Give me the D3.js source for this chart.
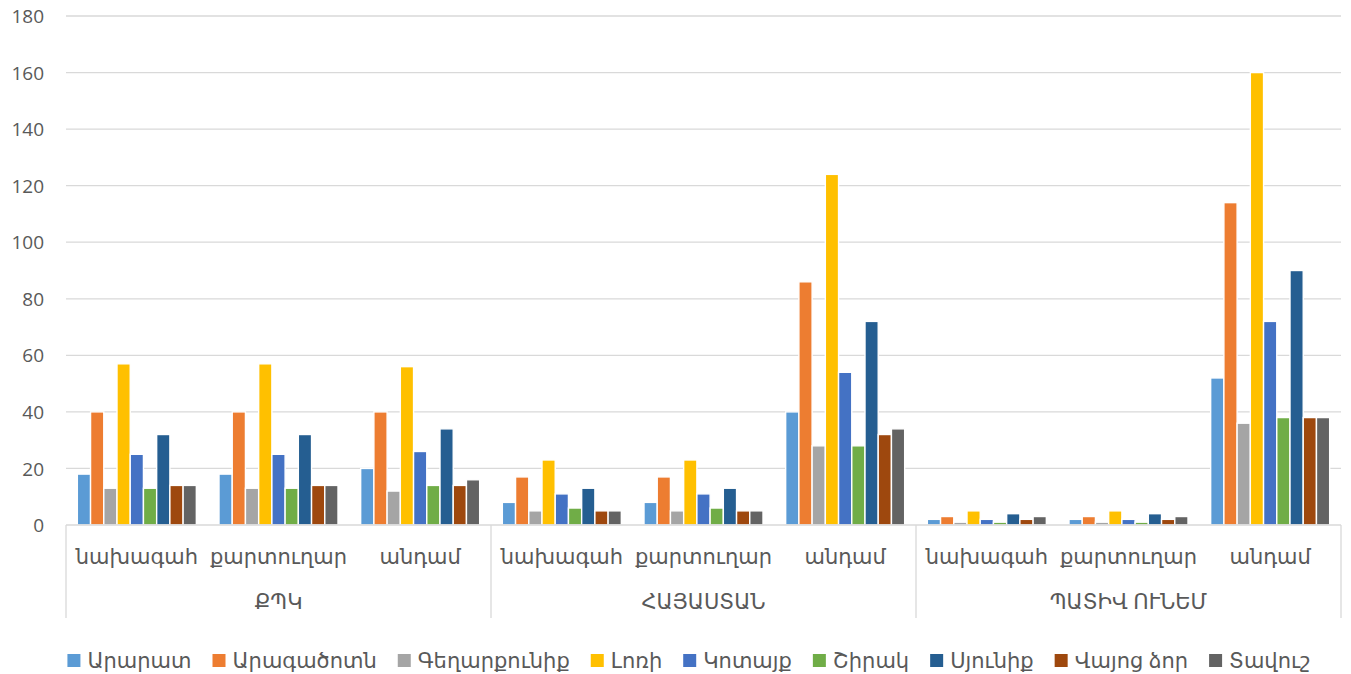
<!DOCTYPE html>
<html><head><meta charset="utf-8">
<script src="https://cdn.jsdelivr.net/npm/d3@7"></script>
<style>
html,body{margin:0;padding:0;background:#fff;}
svg text{font-family:"Noto Sans","DejaVu Sans",sans-serif;fill:#595959;}
</style></head>
<body><svg id="c" width="1351" height="674"></svg>
<script>
const groups = ["ՔՊԿ","ՀԱՅԱՍՏԱՆ","ՊԱՏԻՎ ՈՒՆԵՄ"];
const subcats = ["նախագահ","քարտուղար","անդամ"];
const series = ["Արարատ","Արագածոտն","Գեղարքունիք","Լոռի","Կոտայք","Շիրակ","Սյունիք","Վայոց ձոր","Տավուշ"];
const colors = ["#5B9BD5","#ED7D31","#A5A5A5","#FFC000","#4472C4","#70AD47","#255E91","#9E480E","#636363"];
const yTicks = [0,20,40,60,80,100,120,140,160,180];
// values per category (group × subcat), in series order
const qpkNakh   = [18,40,13,57,25,13,32,14,14];
const qpkQart   = [18,40,13,57,25,13,32,14,14];
const qpkAnd    = [20,40,12,56,26,14,34,14,16];
const hayNakh   = [8,17,5,23,11,6,13,5,5];
const hayQart   = [8,17,5,23,11,6,13,5,5];
const hayAnd    = [40,86,28,124,54,28,72,32,34];
const patNakh   = [2,3,1,5,2,1,4,2,3];
const patQart   = [2,3,1,5,2,1,4,2,3];
const patAnd    = [52,114,36,160,72,38,90,38,38];
const values = [qpkNakh,qpkQart,qpkAnd,hayNakh,hayQart,hayAnd,patNakh,patQart,patAnd];

const svg = d3.select("#c");
const L = 66, R = 1341, T = 16, B = 525;
const cats = [];
groups.forEach(g => subcats.forEach(s => cats.push(g + "|" + s)));

const x0 = d3.scaleBand().domain(cats).range([L, R]).paddingInner(0.16).paddingOuter(0.08);
const xOuter = d3.scaleBand().domain(cats).range([L, R]).padding(0);
const x1 = d3.scaleBand().domain(series).range([0, x0.bandwidth()]).padding(0);
const y = d3.scaleLinear().domain([0, 180]).range([B, T]);

// gridlines
svg.append("g").selectAll("line").data(yTicks.slice(1)).join("line")
  .attr("x1", L).attr("x2", R).attr("y1", d => y(d)).attr("y2", d => y(d))
  .attr("stroke", "#d9d9d9").attr("stroke-width", 1.3);

// y axis labels
const yAxis = d3.axisLeft(y).tickValues(yTicks).tickSize(0).tickPadding(0);
const ya = svg.append("g").attr("transform", `translate(${L-22},0)`).call(yAxis);
ya.select(".domain").remove();
ya.selectAll("text").attr("font-size", 19).style("font-family", "'Open Sans','Noto Sans',sans-serif").attr("fill", "#595959").attr("dy", "0.35em");

// bars
const cg = svg.append("g").selectAll("g").data(cats).join("g")
  .attr("transform", d => `translate(${x0(d)},0)`);
cg.selectAll("rect").data((d, i) => values[i].map((v, j) => ({s: series[j], v, c: colors[j]})))
  .join("rect")
  .attr("x", d => x1(d.s)).attr("width", x1.bandwidth())
  .attr("y", d => y(d.v)).attr("height", d => B - y(d.v))
  .attr("fill", d => d.c).attr("stroke", "#fff").attr("stroke-width", 1.4);

// baseline
svg.append("line").attr("x1", L).attr("x2", R).attr("y1", B).attr("y2", B)
  .attr("stroke", "#d9d9d9").attr("stroke-width", 1.3);

// group separators
const gw = (R - L) / groups.length;
svg.append("g").selectAll("line").data(d3.range(groups.length + 1)).join("line")
  .attr("x1", i => L + i * gw).attr("x2", i => L + i * gw)
  .attr("y1", B).attr("y2", 618)
  .attr("stroke", "#d9d9d9").attr("stroke-width", 1.3);

// subcategory labels
svg.append("g").selectAll("text").data(cats).join("text")
  .attr("x", d => xOuter(d) + xOuter.bandwidth() / 2).attr("y", 564)
  .attr("text-anchor", "middle").attr("font-size", 21)
  .text(d => d.split("|")[1]);

// group labels
svg.append("g").selectAll("text").data(groups).join("text")
  .attr("x", (d, i) => L + gw * i + gw / 2).attr("y", 609)
  .attr("text-anchor", "middle").attr("font-size", 21)
  .text(d => d);

// legend
const lg = svg.append("g");
const items = lg.selectAll("g").data(series).join("g");
items.append("rect").attr("width", 13).attr("height", 13).attr("y", -14)
  .attr("fill", (d, i) => colors[i]);
items.append("text").attr("x", 20).attr("y", 0).attr("font-size", 21).text(d => d);
let xpos = 0;
const widths = [];
items.each(function() { widths.push(this.getBBox().width); });
const gap = 21;
const total = d3.sum(widths) + gap * (widths.length - 1);
xpos = 0;
items.attr("transform", (d, i) => { const t = `translate(${xpos},668)`; xpos += widths[i] + gap; return t; });
lg.attr("transform", `translate(${689 - total / 2},0)`);
</script></body></html>
